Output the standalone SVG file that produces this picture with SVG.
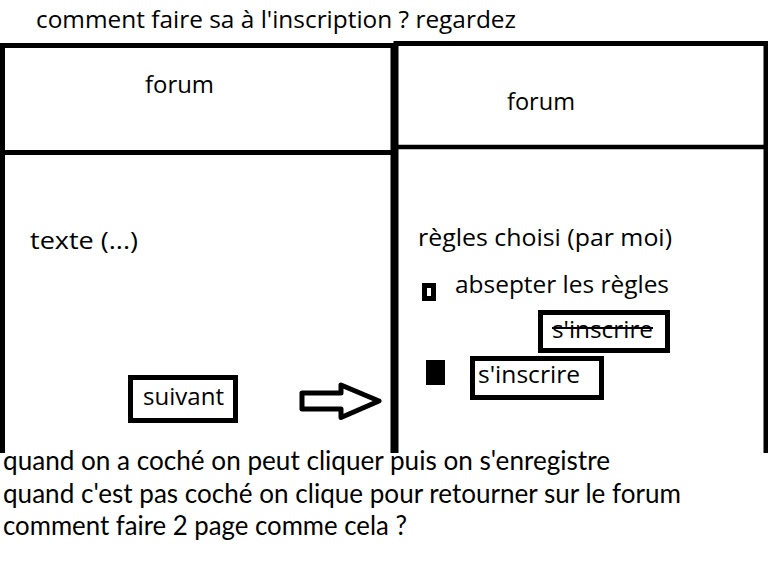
<svg xmlns="http://www.w3.org/2000/svg" width="768" height="572" viewBox="0 0 768 572">
<style>
.t{font-family:"Open Sans","Noto Sans","DejaVu Sans",sans-serif;font-size:24px;fill:#000}
.b{font-family:Lato,"Open Sans",sans-serif;font-size:26px;fill:#000}
.frame{fill:none;stroke:#000;stroke-width:5;stroke-linejoin:miter}
.btn{fill:#fff;stroke:#000;stroke-width:5}
</style>
<rect width="768" height="572" fill="#fff"/>
<text class="t" x="36" y="28" textLength="480" lengthAdjust="spacingAndGlyphs">comment faire sa à l'inscription ? regardez</text>
<g id="page-left">
<path class="frame" d="M2.5,453 V45.5 H393 V453"/>
<line x1="0" y1="152.5" x2="393" y2="152.5" stroke="#000" stroke-width="5"/>
<text class="t" x="145" y="93" textLength="69" lengthAdjust="spacingAndGlyphs">forum</text>
<text class="t" x="30" y="249" textLength="108" lengthAdjust="spacingAndGlyphs">texte (...)</text>
</g>
<g id="btn-suivant">
<rect class="btn" x="130.5" y="377.5" width="105" height="43"/>
<text class="t" x="143" y="405" textLength="81" lengthAdjust="spacingAndGlyphs">suivant</text>
</g>
<g id="page-right">
<path class="frame" d="M396,453 V43.5 H766 V453"/>
<line x1="396" y1="147" x2="766" y2="147" stroke="#000" stroke-width="4.5"/>
<text class="t" x="507" y="110" textLength="68" lengthAdjust="spacingAndGlyphs">forum</text>
<text class="t" x="418" y="246" textLength="254" lengthAdjust="spacingAndGlyphs">règles choisi (par moi)</text>
</g>
<g id="checkbox-unchecked">
<rect x="424.5" y="285.5" width="9" height="13" fill="#fff" stroke="#000" stroke-width="5"/>
<text class="t" x="455" y="293" textLength="214" lengthAdjust="spacingAndGlyphs">absepter les règles</text>
</g>
<g id="btn-inscrire-disabled">
<rect class="btn" x="540.5" y="312.5" width="127" height="38"/>
<text class="t" x="552" y="338" textLength="101" lengthAdjust="spacingAndGlyphs">s'inscrire</text>
<line x1="552" y1="328" x2="653" y2="328" stroke="#000" stroke-width="2"/>
</g>
<g id="checkbox-checked">
<rect x="426" y="360" width="19" height="25" fill="#000"/>
</g>
<g id="btn-inscrire">
<rect class="btn" x="472.5" y="358.5" width="129" height="39"/>
<text class="t" x="478" y="383" textLength="102" lengthAdjust="spacingAndGlyphs">s'inscrire</text>
</g>
<g id="connectors">
<polygon points="302,393 341,393 341,385 379,401 341,417.5 341,409 302,409" fill="#fff" stroke="#000" stroke-width="5" stroke-linejoin="round"/>
</g>
<g id="notes">
<text class="b" x="3" y="470" textLength="607" lengthAdjust="spacingAndGlyphs">quand on a coché on peut cliquer puis on s'enregistre</text>
<text class="b" x="3" y="503" textLength="678" lengthAdjust="spacingAndGlyphs">quand c'est pas coché on clique pour retourner sur le forum</text>
<text class="b" x="3" y="535" textLength="404" lengthAdjust="spacingAndGlyphs">comment faire 2 page comme cela ?</text>
</g>
</svg>
